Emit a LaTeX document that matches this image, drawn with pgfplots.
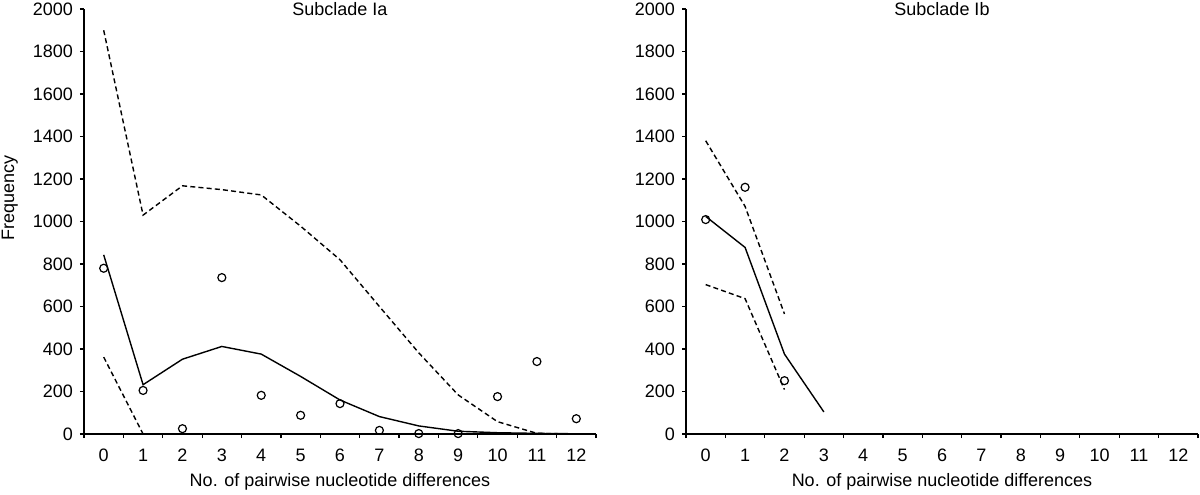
\documentclass[border=0pt]{standalone}
\usepackage{fontspec}
\setmainfont{Liberation Sans}
\usepackage{pgfplots}
\pgfplotsset{compat=1.18}

\pgfplotsset{
  mismatch/.style={
    scale only axis,
    width=256pt, height=212.5pt,
    xmin=-0.5, xmax=12.5,
    ymin=0, ymax=2000,
    axis lines=left,
    axis line style={-},
    x axis line style={line width=0.6pt},
    y axis line style={line width=1pt},
    xtick={0,...,12},
    minor xtick={-0.5,0.5,...,12.5},
    ytick={0,200,...,2000},
    major x tick style={draw=none},
    tick align=outside,
    major tick length=2pt,
    minor tick length=2pt,
    tick style={black, line width=0.6pt},
    scaled y ticks=false,
    /pgf/number format/assume math mode=true,
    /pgf/number format/1000 sep={},
    tick label style={font=\fontsize{9}{10}\selectfont},
    xticklabel style={yshift=-2pt},
    label style={font=\fontsize{9}{10}\selectfont},
    xlabel={No. of pairwise nucleotide differences},
    xlabel style={at={(axis description cs:0.5,0)}, anchor=base, yshift=-26pt},
    every axis title shift=0pt,
    title style={at={(axis description cs:0.5,1)}, anchor=center, yshift=0pt, font=\fontsize{9}{10}\selectfont},
    clip=false,
  },
  sim/.style={black, line width=0.7pt, no marks},
  bound/.style={black, line width=0.7pt, no marks, dash pattern=on 2.5pt off 1.6pt},
  obs/.style={only marks, mark=o, mark size=2pt, mark options={black, line width=0.6pt}},
}

\begin{document}
\begin{tikzpicture}
\useasboundingbox (-42pt,-30pt) rectangle (558pt,217pt);

\begin{axis}[mismatch,
  title={Subclade Ia},
  ylabel={Frequency},
  ylabel style={at={(axis description cs:-0.145,0.555)}, anchor=center},
]
% upper bound
\addplot[bound] coordinates {(0,1900)(1,1030)(2,1168)(3,1150)(4,1125)(5,978)(6,820)(7,600)(8,382)(9,184)(10,58)(11,3)(12,0)};
% lower bound
\addplot[bound] coordinates {(0,362)(1,0)};
% expected
\addplot[sim] coordinates {(0,843)(1,232)(2,352)(3,412)(4,376)(5,271)(6,160)(7,82)(8,38)(9,13)(10,6)(11,3)(12,1)};
% observed
\addplot[obs] coordinates {(0,780)(1,205)(2,25)(3,736)(4,182)(5,88)(6,143)(7,17)(8,2)(9,2)(10,176)(11,341)(12,72)};
\end{axis}

\begin{axis}[mismatch,
  at={(301pt,0pt)},
  title={Subclade Ib},
]
\addplot[bound] coordinates {(0,1380)(1,1071)(2,565)};
\addplot[bound] coordinates {(0,703)(1,637)(2,209)};
\addplot[sim] coordinates {(0,1024)(1,878)(2,376)(3,104)};
\addplot[obs] coordinates {(0,1009)(1,1161)(2,251)};
\end{axis}
\end{tikzpicture}
\end{document}
